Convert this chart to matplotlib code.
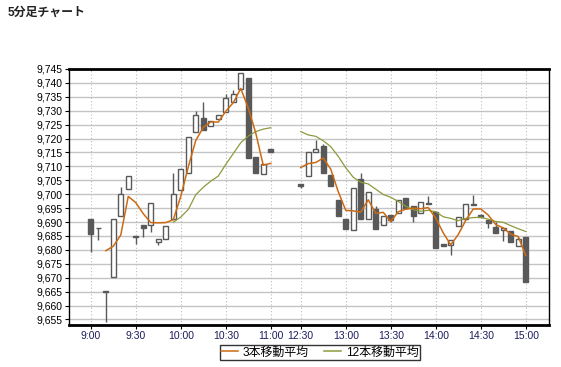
import numpy as np
import matplotlib
matplotlib.use("Agg")
import matplotlib.pyplot as plt
from matplotlib.lines import Line2D

plt.rcParams['font.family'] = ['Liberation Sans', 'Noto Sans CJK JP', 'DejaVu Sans']

# bar slots (5 min), empty slots are the lunch gap
times = ['9:00', '9:05', '9:10', '9:15', '9:20', '9:25', '9:30', '9:35', '9:40', '9:45',
         '9:50', '9:55', '10:00', '10:05', '10:10', '10:15', '10:20', '10:25', '10:30', '10:35',
         '10:40', '10:45', '10:50', '10:55', '11:00', '', '', '', '12:30', '12:35',
         '12:40', '12:45', '12:50', '12:55', '13:00', '13:05', '13:10', '13:15', '13:20', '13:25',
         '13:30', '13:35', '13:40', '13:45', '13:50', '13:55', '14:00', '14:05', '14:10', '14:15',
         '14:20', '14:25', '14:30', '14:35', '14:40', '14:45', '14:50', '14:55', '15:00']
tick_labels = ['9:00', '9:30', '10:00', '10:30', '11:00', '12:30', '13:00',
               '13:30', '14:00', '14:30', '15:00']

n = None
opens = [9691, 9688, 9665.2, 9670.3, 9692, 9702, 9685, 9689, 9689, 9682.8,
         9683.8, 9691, 9701.5, 9707.6, 9722.5, 9727.4, 9724.6, 9727, 9729.5, 9733.3,
         9737.9, 9741.8, 9713.3, 9707.3, 9716.3, n, n, n, 9703.7, 9706.7,
         9715.3, 9717.4, 9707, 9698, 9691.1, 9687.2, 9705.4, 9691.1, 9694.6, 9688.8,
         9692.5, 9693.2, 9698.6, 9695.8, 9693.2, 9697, 9693.5, 9682, 9681.8, 9688.7,
         9691.1, 9696.5, 9692.5, 9690.8, 9688.3, 9687.2, 9686.9, 9681.4, 9684.5]
highs = [9691, 9688, 9665.2, 9691, 9702.5, 9706.5, 9685, 9689, 9697, 9683.8,
         9688.5, 9707.5, 9709, 9720.7, 9730, 9733, 9726.4, 9728.3, 9736, 9737.3,
         9743.6, 9741.8, 9713.3, 9710.7, 9716.3, n, n, n, 9703.7, 9715.1,
         9719.5, 9718.1, 9707, 9698, 9691.1, 9702.4, 9707.8, 9700.7, 9695.8, 9692.3,
         9692.5, 9698, 9698.6, 9695.8, 9697.3, 9699.5, 9693.5, 9682, 9683.6, 9691.7,
         9696.4, 9699.8, 9693, 9690.8, 9690, 9688, 9686.9, 9684.8, 9684.5]
lows = [9679.3, 9683.5, 9654, 9670.3, 9692, 9702, 9682, 9684.5, 9686.5, 9681.9,
        9683.8, 9691, 9701.5, 9707.6, 9722.5, 9723.2, 9724.6, 9727, 9729.5, 9733.3,
        9737.9, 9713, 9707.6, 9707.3, 9715.1, n, n, n, 9702.4, 9706.7,
        9715.3, 9707.8, 9703.1, 9692, 9687.4, 9687.2, 9691, 9691.1, 9687.5, 9688.8,
        9690, 9693.2, 9695, 9690, 9693.2, 9696.4, 9680.6, 9681.3, 9678, 9688.7,
        9691.1, 9696.1, 9691.7, 9687.8, 9686, 9683.3, 9682.7, 9681.4, 9668.5]
closes = [9685.6, 9687.7, 9665, 9691, 9700, 9706.5, 9684.5, 9688, 9697, 9683.8,
          9688.5, 9700, 9709, 9720.7, 9728.5, 9723.2, 9726.4, 9728.3, 9734.6, 9736,
          9743.6, 9713, 9707.6, 9710.7, 9715.1, n, n, n, 9703, 9715.1,
          9716.2, 9707.8, 9703.1, 9692, 9687.4, 9702.4, 9691, 9700.7, 9687.5, 9692.3,
          9690.8, 9698, 9695, 9692, 9697.3, 9696.4, 9680.6, 9681.3, 9683.6, 9691.7,
          9696.4, 9696.1, 9691.7, 9689.6, 9686, 9688, 9682.7, 9683.8, 9668.5]

ma3 = [n, n, 9679.7, 9681.3, 9685.3, 9699.2, 9697, 9693, 9689.8, 9689.7,
       9689.8, 9690.8, 9699.2, 9709.8, 9719.3, 9724, 9726, 9725.9, 9729.8, 9732.9,
       9738, 9731, 9722, 9710.4, 9711.1, n, n, n, 9709.6, 9711,
       9711.4, 9713, 9709, 9700.9, 9694.2, 9694, 9693.6, 9698, 9693.1, 9693.5,
       9690.2, 9693.7, 9694.6, 9695, 9694.8, 9695.2, 9691.4, 9686.1, 9681.8, 9685.5,
       9690.6, 9694.7, 9694.7, 9692.5, 9689.1, 9687.9, 9685.6, 9684.8, 9678]
ma12 = [n, n, n, n, n, n, n, n, n, n,
        n, 9689.9, 9691.8, 9694.5, 9699.8, 9702.5, 9704.7, 9706.5, 9710.7, 9714.6,
        9718.5, 9720.9, 9722.5, 9723.4, 9723.9, n, n, n, 9722.5, 9721.3,
        9720.8, 9719.2, 9717.1, 9713.6, 9709.5, 9706.1, 9704.3, 9703.7, 9701.8, 9699.9,
        9698.9, 9697.4, 9695.7, 9694.4, 9693.9, 9694.2, 9693.7, 9691.9, 9691.3, 9690.5,
        9691.3, 9691.6, 9691.7, 9691, 9690.2, 9689.9, 9688.7, 9687.6, 9686.6]

x = np.arange(len(times))
o = np.array(opens, dtype=float)
h = np.array(highs, dtype=float)
l = np.array(lows, dtype=float)
c = np.array(closes, dtype=float)
m3 = np.array(ma3, dtype=float)
m12 = np.array(ma12, dtype=float)

candle_col = '#595959'

fig = plt.figure(figsize=(5.61, 3.67), dpi=100)
ax = fig.add_axes([69 / 561, 1 - 325 / 367, 480 / 561, 256 / 367])

# grid
for v in np.arange(9655, 9746, 5):
    ax.axhline(v, color='#c4c4c4', lw=1, zorder=0)
tick_pos = [x[times.index(t)] for t in tick_labels]
for p in tick_pos:
    ax.axvline(p, color='#bcbcbc', lw=0.8, ls=(0, (1, 2)), zorder=0)

# candles
ok = ~np.isnan(o)
ax.vlines(x[ok], l[ok], h[ok], color=candle_col, lw=1, zorder=2)
up = ok & (c >= o)
dn = ok & (c < o)
ax.bar(x[up], c[up] - o[up], bottom=o[up], width=0.72, facecolor='white',
       edgecolor=candle_col, lw=1, zorder=3)
ax.bar(x[dn], c[dn] - o[dn], bottom=o[dn], width=0.72, facecolor=candle_col,
       edgecolor=candle_col, lw=1, zorder=3)

# moving averages
ax.plot(x, m12, color='#8c9a3c', lw=0.9, zorder=4)
ax.plot(x, m3, color='#cc6a14', lw=1.1, zorder=5)

ax.set_xlim(-2.9, 61.1)
ax.set_ylim(9653, 9745)
ax.set_yticks(np.arange(9655, 9746, 5))
ax.set_yticklabels([f'{v:,}' for v in range(9655, 9746, 5)])
ax.set_xticks(tick_pos)
ax.set_xticklabels(tick_labels, color='#1c1c5c')
ax.tick_params(axis='both', labelsize=7.5, length=3, width=0.8, pad=1.5)

for s in ['top', 'bottom']:
    ax.spines[s].set_linewidth(2)
for s in ['left', 'right']:
    ax.spines[s].set_linewidth(1)

fig.text(8 / 561, 1 - 13 / 367, '5分足チャート', fontsize=8.6, fontweight='bold',
         va='center', ha='left', color='#222222')

handles = [Line2D([], [], color='#cc6a14', lw=1.1),
           Line2D([], [], color='#8c9a3c', lw=1.1)]
leg = fig.legend(handles, ['3本移動平均', '12本移動平均'], loc='center',
                 bbox_to_anchor=(320 / 561, 1 - 352.5 / 367), ncol=2, fontsize=8.6,
                 frameon=True, fancybox=False, handlelength=1.4, handletextpad=0.4,
                 columnspacing=1.3, borderpad=0.15, borderaxespad=0)
leg.get_frame().set_edgecolor('black')
leg.get_frame().set_linewidth(1)

fig.savefig('out.png', dpi=100)
